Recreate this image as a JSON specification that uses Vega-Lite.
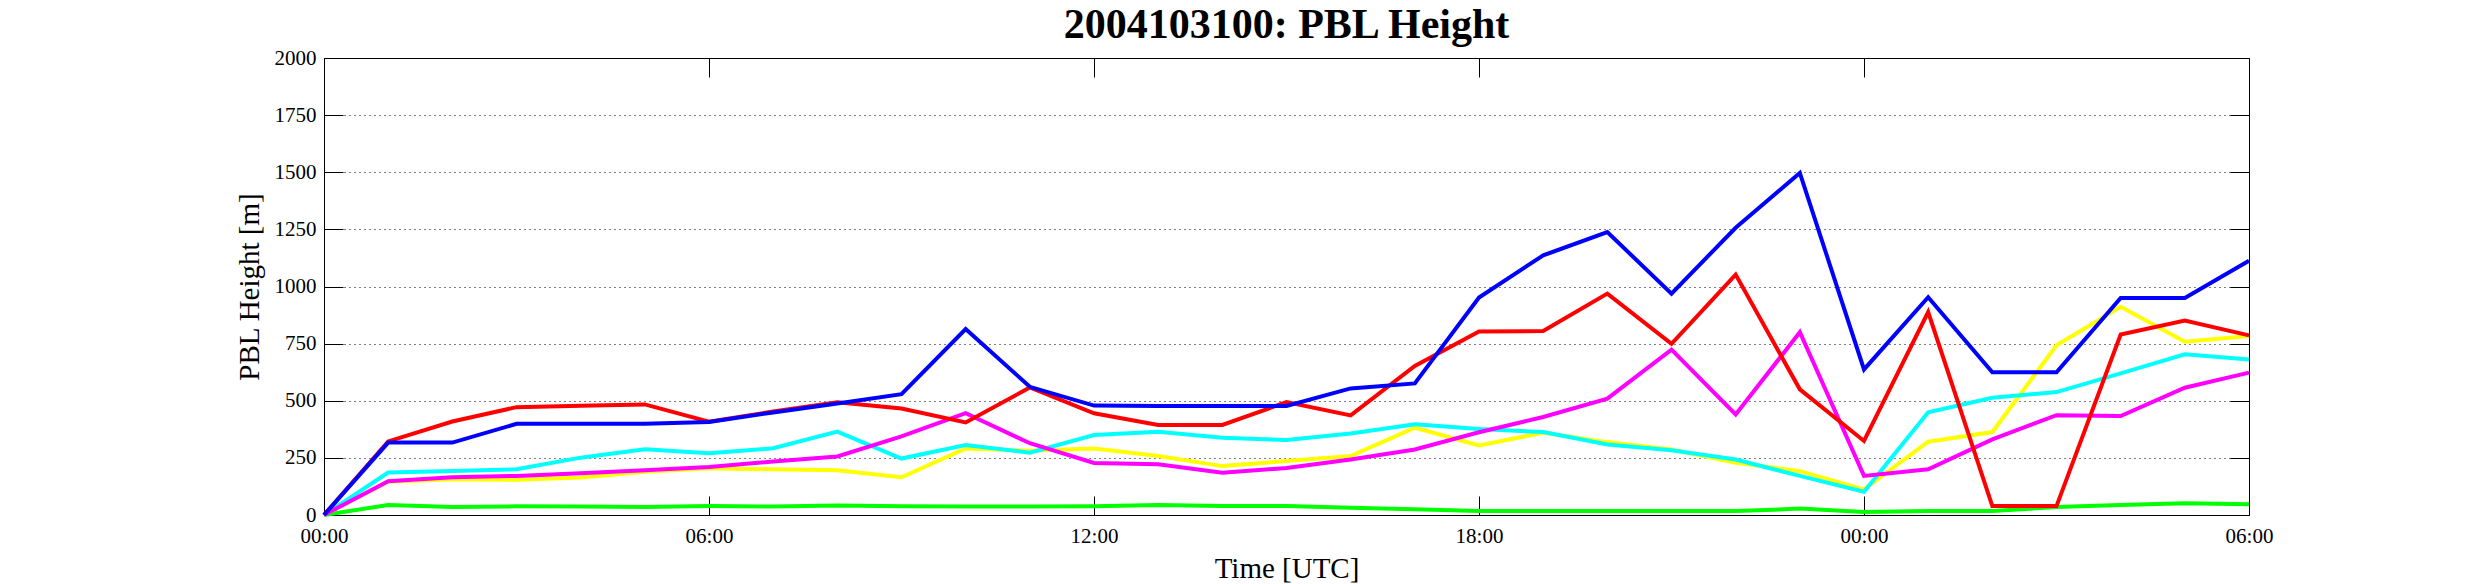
{
  "$schema": "https://vega.github.io/schema/vega-lite/v6.json",
  "autosize": {"type": "none"},
  "width": 1925,
  "height": 457,
  "padding": {"left": 324, "top": 58, "right": 236, "bottom": 69},
  "background": "white",
  "title": {
    "text": "2004103100: PBL Height",
    "font": "Liberation Serif",
    "fontSize": 42,
    "fontWeight": "bold",
    "color": "black",
    "anchor": "middle",
    "baseline": "alphabetic",
    "offset": -33
  },
  "config": {
    "view": {"stroke": "black", "strokeWidth": 1},
    "axis": {
      "labelFont": "Liberation Serif",
      "labelFontSize": 21,
      "labelColor": "black",
      "titleFont": "Liberation Serif",
      "titleFontSize": 29,
      "titleFontWeight": "normal",
      "titleColor": "black",
      "tickColor": "black",
      "tickWidth": 1,
      "domain": false
    }
  },
  "data": {
    "values": [
      {"h": 0, "run": "green", "v": 0}, {"h": 1, "run": "green", "v": 44}, {"h": 2, "run": "green", "v": 35}, {"h": 3, "run": "green", "v": 38},
      {"h": 4, "run": "green", "v": 37}, {"h": 5, "run": "green", "v": 35}, {"h": 6, "run": "green", "v": 39}, {"h": 7, "run": "green", "v": 37},
      {"h": 8, "run": "green", "v": 42}, {"h": 9, "run": "green", "v": 38}, {"h": 10, "run": "green", "v": 37}, {"h": 11, "run": "green", "v": 37},
      {"h": 12, "run": "green", "v": 38}, {"h": 13, "run": "green", "v": 44}, {"h": 14, "run": "green", "v": 39}, {"h": 15, "run": "green", "v": 39},
      {"h": 16, "run": "green", "v": 32}, {"h": 17, "run": "green", "v": 25}, {"h": 18, "run": "green", "v": 17}, {"h": 19, "run": "green", "v": 17},
      {"h": 20, "run": "green", "v": 17}, {"h": 21, "run": "green", "v": 17}, {"h": 22, "run": "green", "v": 17}, {"h": 23, "run": "green", "v": 28},
      {"h": 24, "run": "green", "v": 13}, {"h": 25, "run": "green", "v": 17}, {"h": 26, "run": "green", "v": 17}, {"h": 27, "run": "green", "v": 35},
      {"h": 28, "run": "green", "v": 44}, {"h": 29, "run": "green", "v": 51}, {"h": 30, "run": "green", "v": 47},

      {"h": 0, "run": "yellow", "v": 0}, {"h": 1, "run": "yellow", "v": 146}, {"h": 2, "run": "yellow", "v": 156}, {"h": 3, "run": "yellow", "v": 154},
      {"h": 4, "run": "yellow", "v": 164}, {"h": 5, "run": "yellow", "v": 189}, {"h": 6, "run": "yellow", "v": 205}, {"h": 7, "run": "yellow", "v": 200},
      {"h": 8, "run": "yellow", "v": 196}, {"h": 9, "run": "yellow", "v": 165}, {"h": 10, "run": "yellow", "v": 291}, {"h": 11, "run": "yellow", "v": 281},
      {"h": 12, "run": "yellow", "v": 291}, {"h": 13, "run": "yellow", "v": 258}, {"h": 14, "run": "yellow", "v": 214}, {"h": 15, "run": "yellow", "v": 236},
      {"h": 16, "run": "yellow", "v": 258}, {"h": 17, "run": "yellow", "v": 382}, {"h": 18, "run": "yellow", "v": 304}, {"h": 19, "run": "yellow", "v": 360},
      {"h": 20, "run": "yellow", "v": 319}, {"h": 21, "run": "yellow", "v": 287}, {"h": 22, "run": "yellow", "v": 229}, {"h": 23, "run": "yellow", "v": 192},
      {"h": 24, "run": "yellow", "v": 112}, {"h": 25, "run": "yellow", "v": 321}, {"h": 26, "run": "yellow", "v": 363}, {"h": 27, "run": "yellow", "v": 743},
      {"h": 28, "run": "yellow", "v": 911}, {"h": 29, "run": "yellow", "v": 758}, {"h": 30, "run": "yellow", "v": 783},

      {"h": 0, "run": "cyan", "v": 0}, {"h": 1, "run": "cyan", "v": 186}, {"h": 2, "run": "cyan", "v": 193}, {"h": 3, "run": "cyan", "v": 200},
      {"h": 4, "run": "cyan", "v": 251}, {"h": 5, "run": "cyan", "v": 288}, {"h": 6, "run": "cyan", "v": 270}, {"h": 7, "run": "cyan", "v": 292},
      {"h": 8, "run": "cyan", "v": 365}, {"h": 9, "run": "cyan", "v": 247}, {"h": 10, "run": "cyan", "v": 306}, {"h": 11, "run": "cyan", "v": 273},
      {"h": 12, "run": "cyan", "v": 350}, {"h": 13, "run": "cyan", "v": 364}, {"h": 14, "run": "cyan", "v": 338}, {"h": 15, "run": "cyan", "v": 328},
      {"h": 16, "run": "cyan", "v": 357}, {"h": 17, "run": "cyan", "v": 397}, {"h": 18, "run": "cyan", "v": 376}, {"h": 19, "run": "cyan", "v": 363},
      {"h": 20, "run": "cyan", "v": 309}, {"h": 21, "run": "cyan", "v": 283}, {"h": 22, "run": "cyan", "v": 243}, {"h": 23, "run": "cyan", "v": 171},
      {"h": 24, "run": "cyan", "v": 102}, {"h": 25, "run": "cyan", "v": 450}, {"h": 26, "run": "cyan", "v": 513}, {"h": 27, "run": "cyan", "v": 538},
      {"h": 28, "run": "cyan", "v": 620}, {"h": 29, "run": "cyan", "v": 703}, {"h": 30, "run": "cyan", "v": 681},

      {"h": 0, "run": "magenta", "v": 0}, {"h": 1, "run": "magenta", "v": 148}, {"h": 2, "run": "magenta", "v": 165}, {"h": 3, "run": "magenta", "v": 171},
      {"h": 4, "run": "magenta", "v": 183}, {"h": 5, "run": "magenta", "v": 196}, {"h": 6, "run": "magenta", "v": 210}, {"h": 7, "run": "magenta", "v": 234},
      {"h": 8, "run": "magenta", "v": 256}, {"h": 9, "run": "magenta", "v": 344}, {"h": 10, "run": "magenta", "v": 446}, {"h": 11, "run": "magenta", "v": 314},
      {"h": 12, "run": "magenta", "v": 228}, {"h": 13, "run": "magenta", "v": 222}, {"h": 14, "run": "magenta", "v": 185}, {"h": 15, "run": "magenta", "v": 206},
      {"h": 16, "run": "magenta", "v": 243}, {"h": 17, "run": "magenta", "v": 287}, {"h": 18, "run": "magenta", "v": 362}, {"h": 19, "run": "magenta", "v": 429},
      {"h": 20, "run": "magenta", "v": 509}, {"h": 21, "run": "magenta", "v": 724}, {"h": 22, "run": "magenta", "v": 440}, {"h": 23, "run": "magenta", "v": 800},
      {"h": 24, "run": "magenta", "v": 171}, {"h": 25, "run": "magenta", "v": 200}, {"h": 26, "run": "magenta", "v": 331}, {"h": 27, "run": "magenta", "v": 437},
      {"h": 28, "run": "magenta", "v": 433}, {"h": 29, "run": "magenta", "v": 557}, {"h": 30, "run": "magenta", "v": 623},

      {"h": 0, "run": "red", "v": 0}, {"h": 1, "run": "red", "v": 322}, {"h": 2, "run": "red", "v": 409}, {"h": 3, "run": "red", "v": 472},
      {"h": 4, "run": "red", "v": 478}, {"h": 5, "run": "red", "v": 484}, {"h": 6, "run": "red", "v": 408}, {"h": 7, "run": "red", "v": 453},
      {"h": 8, "run": "red", "v": 493}, {"h": 9, "run": "red", "v": 466}, {"h": 10, "run": "red", "v": 405}, {"h": 11, "run": "red", "v": 558},
      {"h": 12, "run": "red", "v": 445}, {"h": 13, "run": "red", "v": 394}, {"h": 14, "run": "red", "v": 394}, {"h": 15, "run": "red", "v": 494},
      {"h": 16, "run": "red", "v": 436}, {"h": 17, "run": "red", "v": 652}, {"h": 18, "run": "red", "v": 803}, {"h": 19, "run": "red", "v": 805},
      {"h": 20, "run": "red", "v": 969}, {"h": 21, "run": "red", "v": 749}, {"h": 22, "run": "red", "v": 1052}, {"h": 23, "run": "red", "v": 550},
      {"h": 24, "run": "red", "v": 324}, {"h": 25, "run": "red", "v": 888}, {"h": 26, "run": "red", "v": 39}, {"h": 27, "run": "red", "v": 39},
      {"h": 28, "run": "red", "v": 790}, {"h": 29, "run": "red", "v": 851}, {"h": 30, "run": "red", "v": 786},

      {"h": 0, "run": "blue", "v": 0}, {"h": 1, "run": "blue", "v": 317}, {"h": 2, "run": "blue", "v": 317}, {"h": 3, "run": "blue", "v": 399},
      {"h": 4, "run": "blue", "v": 399}, {"h": 5, "run": "blue", "v": 399}, {"h": 6, "run": "blue", "v": 407}, {"h": 7, "run": "blue", "v": 449},
      {"h": 8, "run": "blue", "v": 488}, {"h": 9, "run": "blue", "v": 529}, {"h": 10, "run": "blue", "v": 814}, {"h": 11, "run": "blue", "v": 561},
      {"h": 12, "run": "blue", "v": 479}, {"h": 13, "run": "blue", "v": 477}, {"h": 14, "run": "blue", "v": 477}, {"h": 15, "run": "blue", "v": 477},
      {"h": 16, "run": "blue", "v": 554}, {"h": 17, "run": "blue", "v": 576}, {"h": 18, "run": "blue", "v": 952}, {"h": 19, "run": "blue", "v": 1136},
      {"h": 20, "run": "blue", "v": 1238}, {"h": 21, "run": "blue", "v": 969}, {"h": 22, "run": "blue", "v": 1257}, {"h": 23, "run": "blue", "v": 1497},
      {"h": 24, "run": "blue", "v": 637}, {"h": 25, "run": "blue", "v": 953}, {"h": 26, "run": "blue", "v": 625}, {"h": 27, "run": "blue", "v": 625},
      {"h": 28, "run": "blue", "v": 950}, {"h": 29, "run": "blue", "v": 950}, {"h": 30, "run": "blue", "v": 1113}
    ]
  },
  "layer": [
    {
      "mark": {"type": "point", "opacity": 0},
      "encoding": {
        "x": {
          "field": "h", "type": "quantitative",
          "scale": {"domain": [0, 30], "nice": false, "zero": false},
          "axis": {"orient": "top", "values": [0, 6, 12, 18, 24, 30], "labels": false, "tickSize": -19, "grid": false, "title": null}
        },
        "y": {
          "field": "v", "type": "quantitative",
          "scale": {"domain": [0, 2000], "nice": false},
          "axis": {"orient": "right", "values": [0, 250, 500, 750, 1000, 1250, 1500, 1750, 2000], "labels": false, "tickSize": -19, "grid": false, "title": null}
        }
      }
    },
    {
      "mark": {"type": "line", "strokeWidth": 4},
      "encoding": {
        "x": {
          "field": "h", "type": "quantitative",
          "axis": {
            "orient": "bottom",
            "values": [0, 6, 12, 18, 24, 30],
            "labelExpr": "(datum.value % 24 < 10 ? '0' : '') + (datum.value % 24) + ':00'",
            "tickSize": -19,
            "labelPadding": 29,
            "labelFlush": false,
            "grid": false,
            "title": "Time [UTC]",
            "titlePadding": 8
          }
        },
        "y": {
          "field": "v", "type": "quantitative",
          "axis": {
            "orient": "left",
            "values": [0, 250, 500, 750, 1000, 1250, 1500, 1750, 2000],
            "format": "d",
            "tickSize": -19,
            "labelPadding": 27,
            "labelFlush": false,
            "grid": true,
            "gridColor": "black",
            "gridDash": [1, 4],
            "gridWidth": 1,
            "title": "PBL Height [m]",
            "titlePadding": 10
          }
        },
        "color": {
          "field": "run", "type": "nominal", "legend": null,
          "scale": {
            "domain": ["green", "yellow", "cyan", "magenta", "red", "blue"],
            "range": ["#00ff00", "#ffff00", "#00ffff", "#ff00ff", "#ff0000", "#0000ff"]
          }
        }
      }
    }
  ],
  "resolve": {"axis": {"x": "independent", "y": "independent"}}
}
